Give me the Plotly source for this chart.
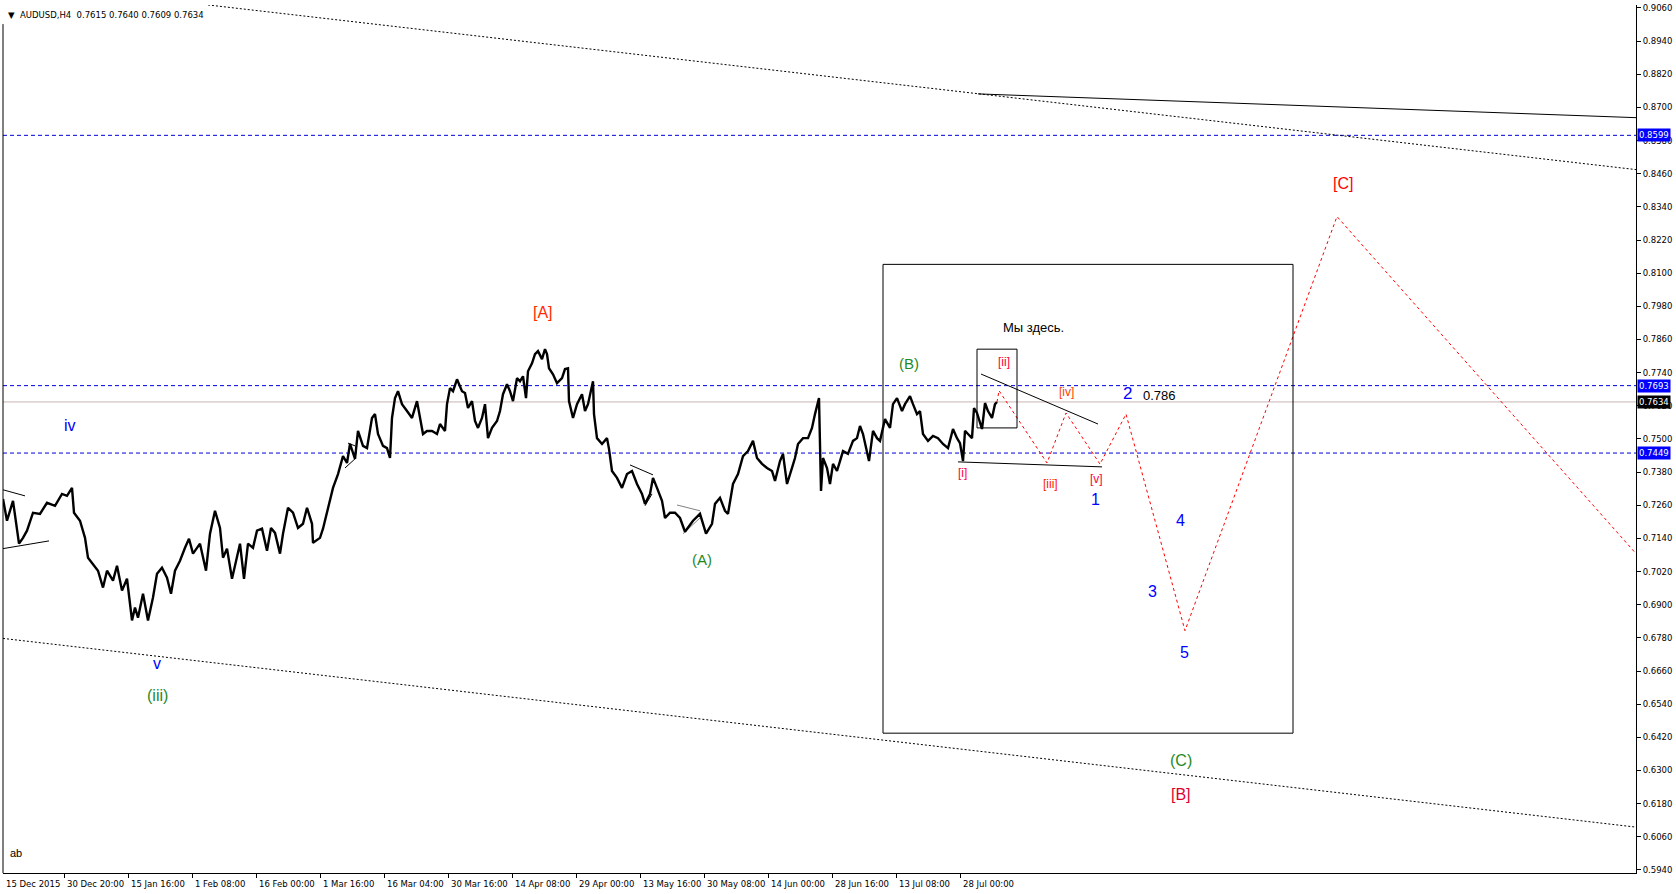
import plotly.graph_objects as go

# ---------------- data ----------------
# H4 price path (bar index, price)
price_path = [
    (0, 0.7283), (4, 0.7204), (10, 0.7276), (14, 0.7168), (16, 0.7121), (20, 0.7142), (24, 0.7168),
    (30, 0.7233), (37, 0.7229), (44, 0.7269), (52, 0.7258), (59, 0.7301), (64, 0.7294), (69, 0.7323),
    (71, 0.7233), (77, 0.7204), (82, 0.7142), (85, 0.7070), (90, 0.7048), (95, 0.7023), (100, 0.6962),
    (104, 0.7023), (110, 0.6987), (114, 0.7041), (119, 0.6951), (124, 0.6994), (129, 0.6843),
    (132, 0.6890), (135, 0.6853), (140, 0.6940), (145, 0.6843), (150, 0.6926), (154, 0.7012),
    (159, 0.7034), (164, 0.6998), (168, 0.6940), (172, 0.7023), (177, 0.7059), (182, 0.7106),
    (186, 0.7139), (190, 0.7085), (197, 0.7121), (203, 0.7023), (207, 0.7157), (212, 0.7240),
    (217, 0.7178), (220, 0.7070), (224, 0.7103), (229, 0.6994), (234, 0.7070), (237, 0.7121),
    (241, 0.6994), (245, 0.7121), (250, 0.7106), (254, 0.7168), (259, 0.7175), (264, 0.7095),
    (268, 0.7178), (272, 0.7160), (277, 0.7085), (280, 0.7157), (285, 0.7251), (290, 0.7233),
    (295, 0.7178), (300, 0.7193), (304, 0.7251), (309, 0.7193), (310, 0.7124), (317, 0.7142),
    (320, 0.7175), (324, 0.7233), (327, 0.7276), (330, 0.7323), (335, 0.7373), (340, 0.7438),
    (344, 0.7413), (347, 0.7482), (352, 0.7428), (355, 0.7529), (360, 0.7475), (364, 0.7467),
    (369, 0.7576), (372, 0.7590), (375, 0.7518), (380, 0.7475), (384, 0.7467), (387, 0.7431),
    (389, 0.7576), (392, 0.7648), (395, 0.7673), (399, 0.7626), (404, 0.7601), (409, 0.7576),
    (414, 0.7637), (417, 0.7576), (420, 0.7518), (424, 0.7529), (429, 0.7529), (434, 0.7518),
    (437, 0.7554), (442, 0.7529), (444, 0.7626), (447, 0.7684), (450, 0.7673), (454, 0.7716),
    (459, 0.7673), (462, 0.7666), (465, 0.7612), (469, 0.7637), (472, 0.7565), (475, 0.7540),
    (479, 0.7576), (482, 0.7626), (485, 0.7503), (489, 0.7540), (494, 0.7565), (497, 0.7601),
    (500, 0.7662), (504, 0.7698), (507, 0.7673), (510, 0.7637), (514, 0.7720), (517, 0.7709),
    (520, 0.7727), (523, 0.7648), (525, 0.7745), (529, 0.7774), (532, 0.7807), (535, 0.7818),
    (539, 0.7789), (542, 0.7825), (544, 0.7807), (546, 0.7756), (550, 0.7734), (554, 0.7702),
    (559, 0.7720), (562, 0.7753), (565, 0.7756), (566, 0.7637), (570, 0.7576), (574, 0.7626),
    (579, 0.7662), (582, 0.7601), (585, 0.7626), (590, 0.7709), (591, 0.7590), (594, 0.7503),
    (599, 0.7482), (604, 0.7503), (606, 0.7464), (609, 0.7384), (614, 0.7359), (619, 0.7323),
    (624, 0.7373), (629, 0.7384), (634, 0.7337), (639, 0.7301), (642, 0.7265), (647, 0.7301),
    (650, 0.7359), (654, 0.7323), (659, 0.7276), (662, 0.7214), (667, 0.7233), (672, 0.7233),
    (677, 0.7214), (682, 0.7164), (690, 0.7204), (697, 0.7229), (703, 0.7157), (709, 0.7193),
    (712, 0.7265), (717, 0.7287), (722, 0.7240), (725, 0.7229), (730, 0.7337), (735, 0.7373),
    (740, 0.7438), (745, 0.7456), (750, 0.7493), (754, 0.7431), (759, 0.7410), (764, 0.7395),
    (769, 0.7384), (772, 0.7348), (777, 0.7420), (780, 0.7446), (784, 0.7337), (789, 0.7395),
    (792, 0.7431), (795, 0.7482), (800, 0.7503), (805, 0.7503), (809, 0.7540), (812, 0.7590),
    (816, 0.7648), (818, 0.7312), (820, 0.7431), (824, 0.7395), (827, 0.7337), (830, 0.7410),
    (834, 0.7384), (837, 0.7420), (840, 0.7456), (845, 0.7446), (850, 0.7493), (854, 0.7503),
    (857, 0.7547), (860, 0.7518), (864, 0.7456), (866, 0.7420), (870, 0.7529), (874, 0.7503),
    (877, 0.7493), (880, 0.7540), (882, 0.7572), (887, 0.7540), (890, 0.7626), (894, 0.7648),
    (899, 0.7601), (902, 0.7626), (907, 0.7655), (910, 0.7626), (914, 0.7590), (917, 0.7601),
    (920, 0.7518), (925, 0.7493), (930, 0.7511), (935, 0.7503), (940, 0.7482), (945, 0.7467),
    (950, 0.7536), (954, 0.7503), (957, 0.7485), (960, 0.7420), (962, 0.7529), (965, 0.7518),
    (969, 0.7503), (971, 0.7612), (974, 0.7594), (979, 0.7536), (982, 0.7630), (985, 0.7601),
    (989, 0.7576), (992, 0.7626), (994, 0.7634),
]
bars = [b for b, _ in price_path]
closes = [p for _, p in price_path]

# projected wave path (red dotted)
proj_bars = [996, 1044, 1063, 1097, 1123, 1182, 1334, 1633]
proj_prices = [0.7675, 0.7413, 0.7594, 0.7409, 0.7590, 0.6806, 0.8305, 0.7085]

# horizontal levels
blue_levels = [0.8599, 0.7693, 0.7449]
current_price = 0.7634
title_text = "AUDUSD,H4  0.7615 0.7640 0.7609 0.7634"

# price-axis ticks
y_ticks = [round(0.5940 + 0.012 * k, 4) for k in range(27)]

# time-axis labels (bar index of each label's tick)
time_labels = ["15 Dec 2015", "30 Dec 20:00", "15 Jan 16:00", "1 Feb 08:00", "16 Feb 00:00",
               "1 Mar 16:00", "16 Mar 04:00", "30 Mar 16:00", "14 Apr 08:00", "29 Apr 00:00",
               "13 May 16:00", "30 May 08:00", "14 Jun 00:00", "28 Jun 16:00", "13 Jul 08:00",
               "28 Jul 00:00"]
time_label_bars = [0] + [61 + 64 * k for k in range(15)]

# trend lines: (bar0, price0, bar1, price1, style, color)
trend_lines = [
    (205, 0.9071, 1633, 0.8475, "dot", "black"),
    (975, 0.8749, 1633, 0.8663, "solid", "black"),
    (0, 0.6778, 1633, 0.6095, "dot", "black"),
    (0, 0.7316, 22, 0.7294, "solid", "black"),
    (0, 0.7103, 46, 0.7131, "solid", "black"),
    (342, 0.7395, 352, 0.7428, "solid", "black"),
    (345, 0.7485, 352, 0.7475, "solid", "black"),
    (627, 0.7406, 650, 0.7370, "solid", "black"),
    (642, 0.7258, 649, 0.7301, "solid", "black"),
    (674, 0.7261, 697, 0.7240, "solid", "gray"),
    (680, 0.7157, 697, 0.7214, "solid", "gray"),
    (978, 0.7735, 1095, 0.7554, "solid", "black"),
    (955, 0.7417, 1099, 0.7399, "solid", "black"),
]

# rectangles: (bar0, price0, bar1, price1)
rectangles = [
    (880, 0.6435, 1290, 0.8132),
    (974, 0.7540, 1014, 0.7825),
]

# wave labels: (text, bar, price, color, size)
wave_labels = [
    ("iv", 67, 0.7550, "#0000ff", 16),
    ("v", 154, 0.6687, "#0000ff", 16),
    ("(iii)", 154, 0.6572, "#1f8a1f", 16),
    ("[A]", 540, 0.7959, "#ff2a00", 16),
    ("(A)", 699, 0.7063, "#1f8a1f", 15),
    ("(B)", 906, 0.7774, "#1f8a1f", 15),
    ("Мы здесь.", 1030, 0.7904, "#000000", 13),
    ("[ii]", 1001, 0.7778, "#ff0040", 12),
    ("[i]", 959, 0.7377, "#ff0040", 12),
    ("[iii]", 1047, 0.7337, "#ff2000", 12),
    ("[iv]", 1063, 0.7670, "#ff4000", 12),
    ("[v]", 1093, 0.7355, "#ff0040", 12),
    ("1", 1092, 0.7280, "#0000ff", 16),
    ("2", 1124, 0.7666, "#0000ff", 17),
    ("0.786", 1156, 0.7659, "#000000", 13),
    ("3", 1149, 0.6947, "#0000ff", 16),
    ("4", 1177, 0.7204, "#0000ff", 16),
    ("5", 1181, 0.6727, "#0000ff", 16),
    ("[C]", 1340, 0.8424, "#ff0000", 16),
    ("(C)", 1178, 0.6337, "#1f8a1f", 16),
    ("[B]", 1178, 0.6214, "#e00030", 16),
    ("ab", 13, 0.6001, "#000000", 11),
]

# ---------------- figure ----------------
W, H = 1676, 894
ML, MR, MT, MB = 3, 40, 3, 21
Y_MIN, Y_MAX = 0.59289, 0.90708
X_MIN, X_MAX = 0, 1633

fig = go.Figure()

for lvl in blue_levels:
    fig.add_shape(type="line", xref="paper", x0=0, x1=1, yref="y", y0=lvl, y1=lvl,
                  line=dict(color="#0000dd", width=1, dash="4px,3px"), layer="below")
fig.add_shape(type="line", xref="paper", x0=0, x1=1, yref="y", y0=current_price, y1=current_price,
              line=dict(color="#c8b4b4", width=1), layer="below")

for b0, p0, b1, p1, st, col in trend_lines:
    fig.add_trace(go.Scatter(x=[b0, b1], y=[p0, p1], mode="lines",
                             line=dict(color=col, width=1, dash=st if st != "dot" else "2px,2px"),
                             hoverinfo="skip", showlegend=False))

for b0, p0, b1, p1 in rectangles:
    fig.add_shape(type="rect", xref="x", yref="y", x0=b0, x1=b1, y0=p0, y1=p1,
                  line=dict(color="black", width=1))

fig.add_trace(go.Scatter(x=bars, y=closes, mode="lines",
                         line=dict(color="black", width=2.4), showlegend=False,
                         hoverinfo="skip"))

fig.add_trace(go.Scatter(x=[bars[-1]] + proj_bars, y=[closes[-1]] + proj_prices, mode="lines",
                         line=dict(color="#ff0000", width=1, dash="3px,3px"),
                         showlegend=False, hoverinfo="skip"))

ann = []
for txt, b, p, col, sz in wave_labels:
    ann.append(dict(text=txt, x=b, y=p, xref="x", yref="y", showarrow=False,
                    xanchor="center", yanchor="middle",
                    font=dict(family="Liberation Sans", size=sz, color=col)))

for lab, b in zip(time_labels, time_label_bars):
    ann.append(dict(text=lab, x=b, y=0, xref="x", yref="paper", showarrow=False,
                    xanchor="left", yanchor="top", xshift=1, yshift=-4,
                    font=dict(family="DejaVu Sans", size=8.5, color="black")))

for lvl in blue_levels:
    ann.append(dict(text=f"{lvl:.4f}", x=1, y=lvl, xref="paper", yref="y", showarrow=False,
                    xanchor="left", yanchor="middle", xshift=1, bgcolor="#0000ff", borderpad=1,
                    font=dict(family="DejaVu Sans", size=8.5, color="white")))
ann.append(dict(text=f"{current_price:.4f}", x=1, y=current_price, xref="paper", yref="y",
                showarrow=False, xanchor="left", yanchor="middle", xshift=1, bgcolor="black",
                borderpad=1, font=dict(family="DejaVu Sans", size=8.5, color="white")))

ann.append(dict(text="▼  " + title_text, x=0, y=1, xref="paper", yref="paper", showarrow=False,
                xanchor="left", yanchor="top", xshift=3, yshift=-3,
                font=dict(family="DejaVu Sans", size=8.5, color="black")))

fig.add_shape(type="line", xref="paper", yref="paper", x0=0, x1=0, y0=0, y1=0.978,
              line=dict(color="black", width=1))

fig.update_layout(
    width=W, height=H, autosize=False,
    margin=dict(l=ML, r=MR, t=MT, b=MB, pad=0),
    paper_bgcolor="white", plot_bgcolor="white",
    annotations=ann, showlegend=False,
    xaxis=dict(range=[X_MIN, X_MAX], showgrid=False, zeroline=False,
               showline=True, linecolor="black", linewidth=1,
               tickmode="array", tickvals=time_label_bars[1:], ticks="outside",
               ticklen=4, tickcolor="black", showticklabels=False, fixedrange=True),
    yaxis=dict(range=[Y_MIN, Y_MAX], side="right", showgrid=False, zeroline=False,
               showline=True, linecolor="black", linewidth=1,
               tickmode="array", tickvals=y_ticks, ticktext=[f"{v:.4f}" for v in y_ticks],
               ticks="outside", ticklen=4, tickcolor="black",
               tickfont=dict(family="DejaVu Sans", size=8.5, color="black"), fixedrange=True),
)

fig.write_html("out.html", config={"displayModeBar": False},
               post_script="document.body.style.margin='0';document.body.style.overflow='hidden';")
